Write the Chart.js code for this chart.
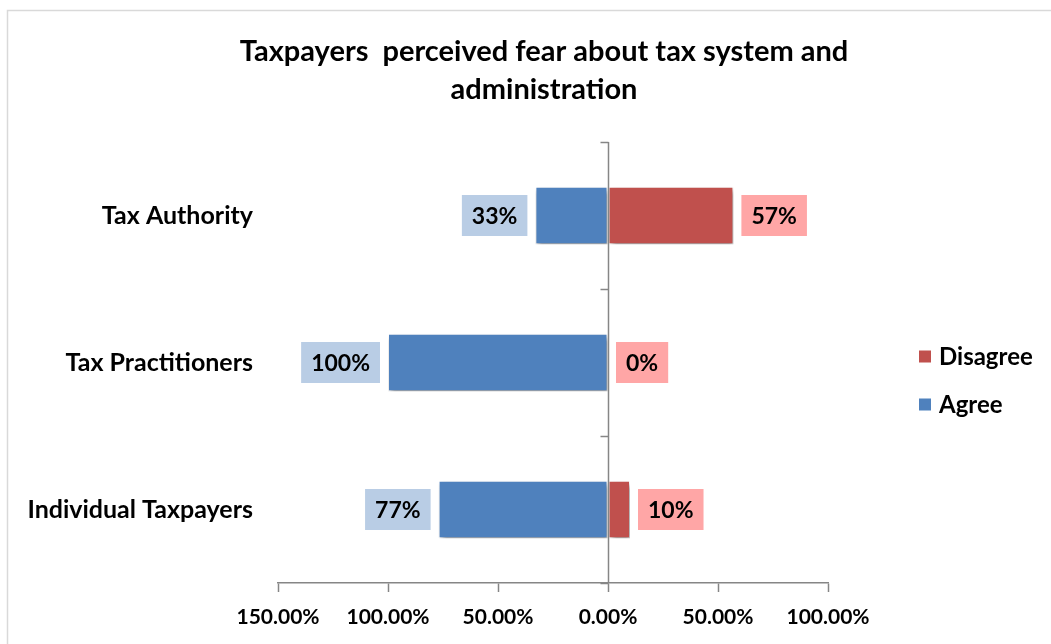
<!DOCTYPE html>
<html lang="en">
<head>
    <meta charset="UTF-8">
    <title>Taxpayers perceived fear about tax system and administration</title>
    <script src="https://cdn.jsdelivr.net/npm/chart.js"></script>
    <style>
        body {
            margin: 0;
            padding: 0;
            background: #fff;
            overflow: hidden;
        }
        #wrap {
            width: 1088px;
            height: 644px;
        }
    </style>
</head>
<body>
    <div id="wrap">
        <canvas id="fearChart" width="1088" height="644"></canvas>
    </div>

    <script>
        // data
        const categories = ['Tax Authority', 'Tax Practitioners', 'Individual Taxpayers'];
        const agree = [33, 100, 77];      // shown to the left of zero
        const disagree = [57, 0, 10];     // shown to the right of zero
        const titleLines = ['Taxpayers  perceived fear about tax system and', 'administration'];
        const xMin = -150, xMax = 100, xStep = 50;

        const FONT = 'Lato, "DejaVu Sans", sans-serif';
        const BLUE = '#4f81bd', RED = '#c0504d';
        const BLUE_LBL = '#b9cde5', RED_LBL = '#ffa6a6';
        const AXIS = '#868686';

        // frame + title (title centred on the whole chart frame)
        const framePlugin = {
            id: 'frame',
            beforeDraw(chart) {
                const ctx = chart.ctx;
                ctx.save();
                ctx.strokeStyle = '#d9d9d9';
                ctx.lineWidth = 1.5;
                ctx.strokeRect(7.5, 10.5, 1074, 700);
                ctx.fillStyle = '#000';
                ctx.font = 'bold 29px ' + FONT;
                ctx.textAlign = 'center';
                ctx.textBaseline = 'alphabetic';
                titleLines.forEach((t, i) => ctx.fillText(t, chart.width / 2, 61 + i * 38));
                ctx.restore();
            }
        };

        // drop shadow under the bars
        const shadowPlugin = {
            id: 'barShadow',
            beforeDatasetDraw(chart) {
                const ctx = chart.ctx;
                ctx.save();
                ctx.shadowColor = 'rgba(0,0,0,0.45)';
                ctx.shadowBlur = 5;
                ctx.shadowOffsetX = 2;
                ctx.shadowOffsetY = 3;
            },
            afterDatasetDraw(chart) {
                chart.ctx.restore();
            }
        };

        // vertical axis at zero, labels in boxes, legend
        const overlayPlugin = {
            id: 'overlay',
            afterDatasetsDraw(chart) {
                const ctx = chart.ctx;
                const area = chart.chartArea;
                const xs = chart.scales.x;
                const ys = chart.scales.y;
                const x0 = Math.round(xs.getPixelForValue(0)) + 0.5;

                ctx.save();
                ctx.strokeStyle = AXIS;
                ctx.lineWidth = 1.5;
                ctx.beginPath();
                ctx.moveTo(x0, area.top);
                ctx.lineTo(x0, area.bottom);
                const band = (area.bottom - area.top) / categories.length;
                for (let i = 0; i <= categories.length; i++) {
                    const y = Math.round(ys.getPixelForValue(0) - band / 2 + i * band) + 0.5;
                    ctx.moveTo(x0 - 8, y);
                    ctx.lineTo(x0, y);
                }
                ctx.stroke();

                // data labels, placed from the value on each side of zero
                ctx.font = 'bold 23px ' + FONT;
                ctx.textBaseline = 'middle';
                ctx.textAlign = 'center';
                chart.data.datasets.forEach((ds, di) => {
                    const meta = chart.getDatasetMeta(di);
                    meta.data.forEach((bar, i) => {
                        const v = ds.data[i];
                        const txt = Math.abs(v) + '%';
                        const w = ctx.measureText(txt).width + 20;
                        const h = 41;
                        const end = xs.getPixelForValue(v);
                        const left = v < 0 ? end - 8 - w : end + 8;
                        ctx.fillStyle = ds.labelBg;
                        ctx.fillRect(left, bar.y - h / 2, w, h);
                        ctx.fillStyle = '#000';
                        ctx.fillText(txt, left + w / 2, bar.y + 1);
                    });
                });

                // legend, Excel order (last series first)
                ctx.font = 'bold 24px ' + FONT;
                ctx.textAlign = 'left';
                const items = chart.data.datasets.slice().reverse();
                const lx = area.right + 91;
                const ly = (area.top + area.bottom) / 2 - 6;
                items.forEach((ds, i) => {
                    const cy = ly + i * 48;
                    ctx.fillStyle = ds.backgroundColor;
                    ctx.fillRect(lx, cy - 6, 12, 12);
                    ctx.fillStyle = '#000';
                    ctx.fillText(ds.label, lx + 20, cy + 1);
                });
                ctx.restore();
            }
        };

        const ctx = document.getElementById('fearChart').getContext('2d');

        new Chart(ctx, {
            type: 'bar',
            data: {
                labels: categories,
                datasets: [
                    {
                        label: 'Agree',
                        data: agree.map(v => -v),
                        backgroundColor: BLUE,
                        labelBg: BLUE_LBL
                    },
                    {
                        label: 'Disagree',
                        data: disagree,
                        backgroundColor: RED,
                        labelBg: RED_LBL
                    }
                ]
            },
            options: {
                indexAxis: 'y',
                responsive: false,
                animation: false,
                devicePixelRatio: 1,
                datasets: {
                    bar: {
                        categoryPercentage: 1,
                        barPercentage: 0.39,
                        borderColor: '#ffffff',
                        borderWidth: 1,
                        borderSkipped: false
                    }
                },
                layout: {
                    padding: { top: 142, left: 0, right: 260, bottom: 0 }
                },
                plugins: {
                    legend: { display: false },
                    title: { display: false },
                    tooltip: { enabled: false }
                },
                scales: {
                    x: {
                        stacked: true,
                        min: xMin,
                        max: xMax,
                        afterFit: s => { s.height = 61; },
                        border: { display: true, color: AXIS, width: 1.5 },
                        grid: {
                            drawOnChartArea: false,
                            drawTicks: true,
                            tickLength: 9,
                            tickColor: AXIS,
                            tickWidth: 1.5
                        },
                        ticks: {
                            stepSize: xStep,
                            padding: 13,
                            color: '#000',
                            font: { family: FONT, size: 21, weight: 'bold' },
                            callback: v => Math.abs(v).toFixed(2) + '%'
                        }
                    },
                    y: {
                        stacked: true,
                        afterFit: s => { s.width = 278; },
                        border: { display: false },
                        grid: { display: false },
                        ticks: {
                            padding: 17,
                            color: '#000',
                            font: { family: FONT, size: 25, weight: 'bold' }
                        }
                    }
                }
            },
            plugins: [framePlugin, shadowPlugin, overlayPlugin]
        });
    </script>
</body>
</html>
